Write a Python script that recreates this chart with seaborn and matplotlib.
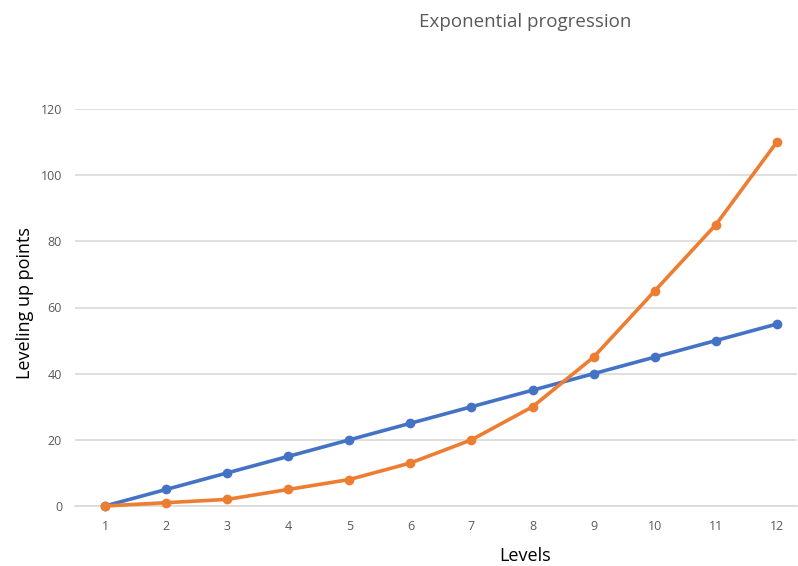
import matplotlib
matplotlib.use("Agg")
import matplotlib.pyplot as plt
import seaborn as sns
import pandas as pd

levels = [1, 2, 3, 4, 5, 6, 7, 8, 9, 10, 11, 12]
linear_points = [0, 5, 10, 15, 20, 25, 30, 35, 40, 45, 50, 55]
exponential_points = [0, 1, 2, 5, 8, 13, 20, 30, 45, 65, 85, 110]
y_ticks = [0, 20, 40, 60, 80, 100, 120]

df = pd.DataFrame({
    "Level": levels * 2,
    "Points": linear_points + exponential_points,
    "Series": ["Linear"] * len(levels) + ["Exponential"] * len(levels),
})

sns.set_theme(style="white")
plt.rcParams['font.family'] = ['Open Sans', 'DejaVu Sans']

fig = plt.figure(figsize=(7.98, 5.66), dpi=100)
ax = fig.add_axes([74.5 / 798, 60 / 566, (797 - 74.5) / 798, 397 / 566])

sns.lineplot(data=df, x="Level", y="Points", hue="Series",
             palette={"Linear": "#4472C4", "Exponential": "#ED7D31"},
             marker="o", markersize=7, markeredgewidth=0, linewidth=2.6,
             legend=False, ax=ax, clip_on=False, zorder=3)

ax.set_xlim(0.5, 12.33)
ax.set_ylim(0, 120)
ax.set_xticks(levels)
ax.set_yticks(y_ticks)
ax.yaxis.grid(True, color="#D9D9D9", linewidth=1.2)
ax.set_axisbelow(True)
for s in ["top", "right", "left"]:
    ax.spines[s].set_visible(False)
ax.spines["bottom"].set_color("#D9D9D9")
ax.spines["bottom"].set_linewidth(1.2)
ax.tick_params(axis="both", length=0, labelsize=9, colors="#595959", pad=10)
ax.tick_params(axis="y", pad=9)

ax.set_xlabel("")
ax.set_ylabel("")
fig.text(525 / 798, 1 - 556 / 566, "Levels", ha="center", va="center",
         fontsize=13, color="black")
fig.text(25 / 798, 1 - 303 / 566, "Leveling up points", ha="center", va="center",
         rotation=90, fontsize=13, color="black")
fig.text(525 / 798, 1 - 22 / 566, "Exponential progression", ha="center", va="center",
         fontsize=13.5, color="#595959")

fig.savefig("out.png", dpi=100)
